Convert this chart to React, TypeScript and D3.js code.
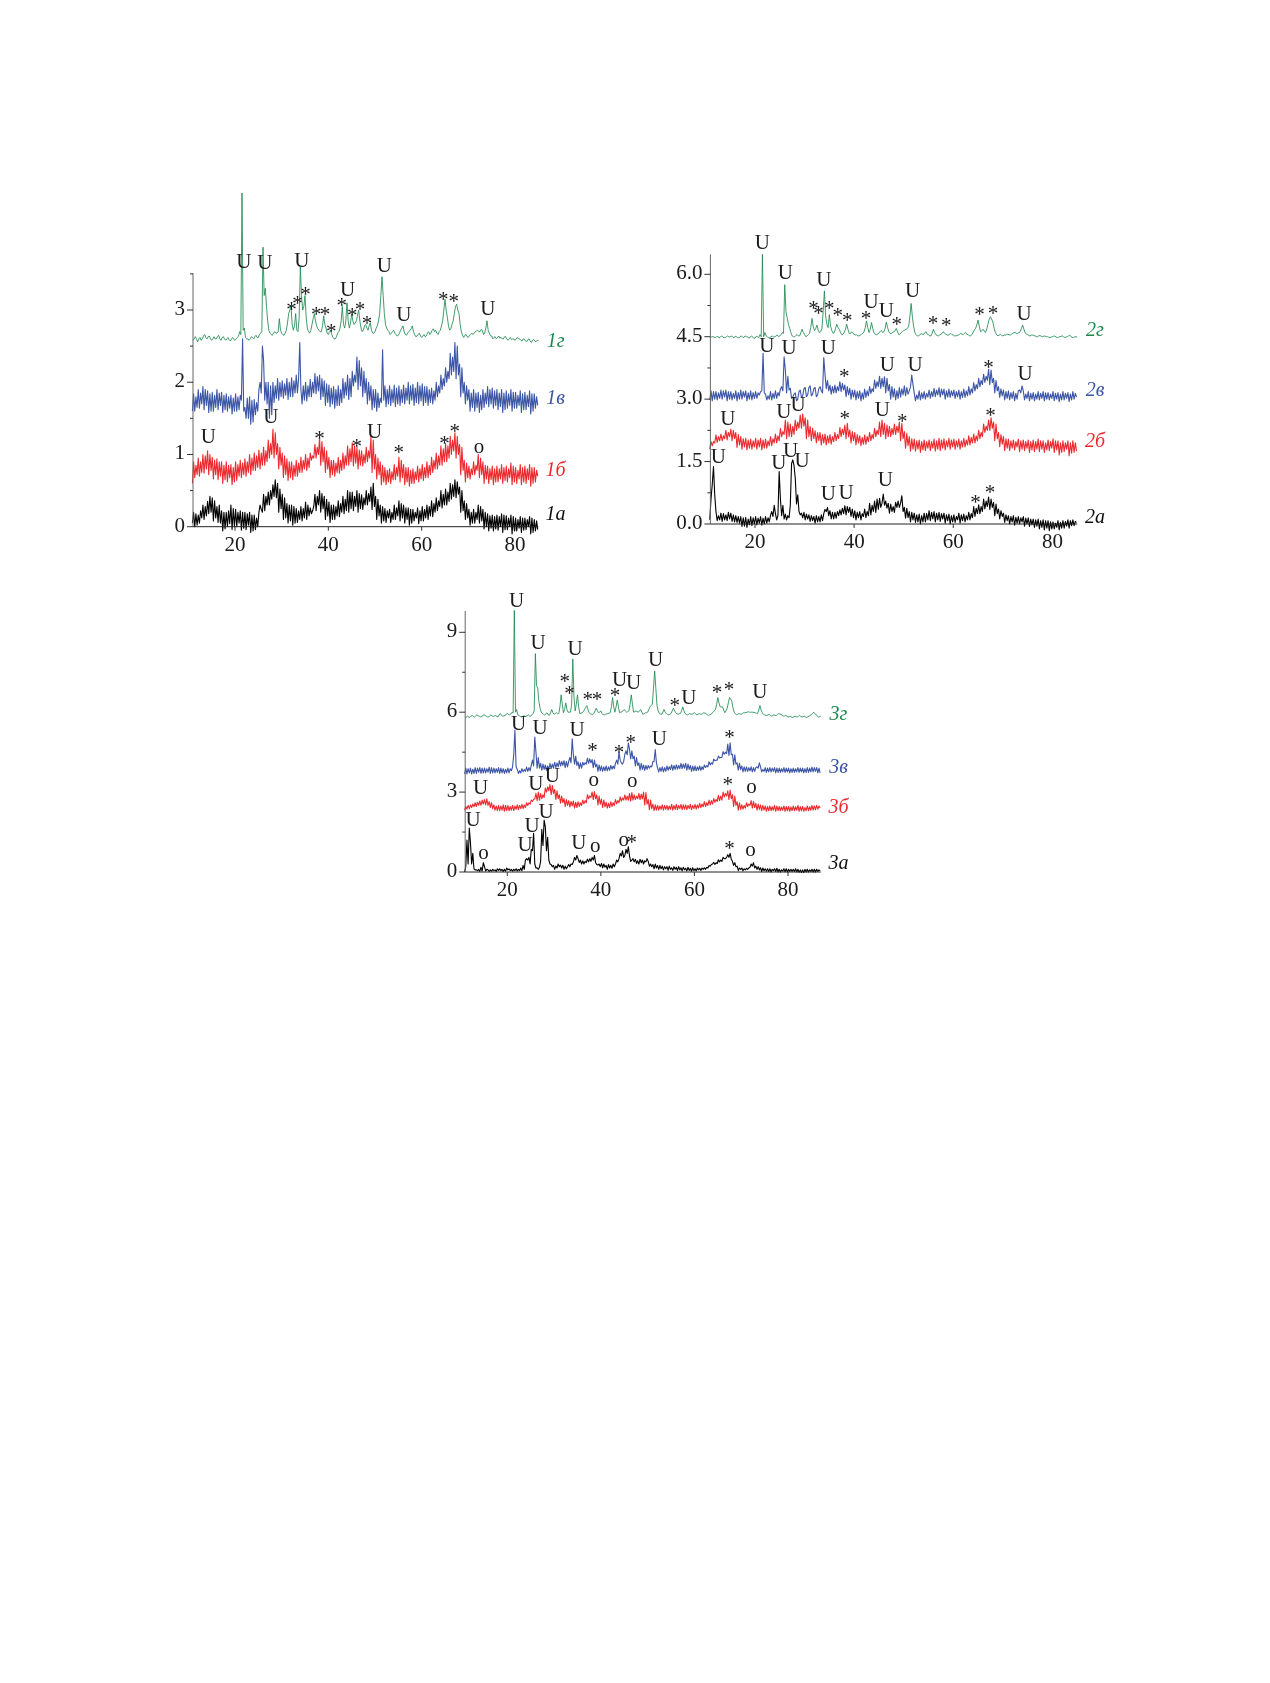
import React from "react";
import * as d3 from "d3";

const GREEN = "#1f8a50", BLUE = "#3c55a6", RED = "#ec2a2e", BLACK = "#000000";

// Readings on the half-degree grid (p*) and on the quarter points between them (m*)
const p1a = [
.05,.18,.02,.22,.12,.28,.15,.42,.2,.36,
.12,.3,.05,.2,-.03,.22,.04,.25,.0,.2,
.05,.2,-.02,.18,.02,.16,-.06,.12,.0,.24,
.2,.42,.3,.5,.38,.65,.4,.52,.25,.4,
.12,.3,.08,.28,.05,.22,.1,.25,.12,.3,
.15,.22,.28,.42,.3,.46,.25,.38,.15,.3,
.1,.28,.15,.32,.2,.38,.22,.48,.25,.42,
.28,.46,.25,.4,.3,.46,.35,.6,.28,.38,
.15,.28,.08,.22,.12,.2,.1,.26,.15,.32,
.12,.26,.1,.24,.05,.2,.12,.22,.08,.24,
.12,.28,.15,.32,.2,.36,.28,.45,.3,.48,
.35,.58,.42,.62,.45,.5,.22,.32,.12,.2,
.05,.2,.1,.28,.08,.2,.0,.15,-.02,.14,
-.03,.14,.0,.16,-.04,.12,.0,.14,-.06,.1,
-.02,.12,-.05,.1,.0,.12,-.08,.08,-.04];
const m1a = [
.2,.0,.16,.05,.3,.1,.35,.18,.4,.08,
.28,.06,.22,-.06,.2,.0,.3,-.04,.24,.0,
.22,-.05,.2,-.04,.2,-.08,.16,-.04,.2,.3,
.45,.22,.48,.3,.58,.42,.6,.2,.45,.1,
.32,.05,.3,.02,.25,.06,.28,.08,.34,.1,
.26,.18,.45,.22,.5,.2,.42,.1,.34,.06,
.3,.1,.36,.14,.42,.18,.5,.2,.48,.22,
.5,.2,.44,.24,.5,.3,.55,.24,.42,.1,
.3,.05,.25,.06,.24,.06,.3,.1,.36,.08,
.3,.05,.26,.02,.24,.08,.26,.04,.28,.08,
.3,.1,.36,.14,.4,.22,.5,.26,.52,.3,
.6,.38,.65,.4,.55,.2,.36,.1,.24,.02,
.24,.05,.3,.05,.24,-.03,.18,-.06,.16,-.06,
.16,-.05,.18,-.08,.15,-.04,.16,-.1,.12,-.06,
.14,-.08,.12,-.04,.14,-.1,.1,-.06];
const p1b = [
.6,.85,.72,.9,.75,.98,.8,1.0,.78,.92,
.72,.9,.7,.85,.65,.85,.68,.82,.62,.86,
.7,.88,.72,.9,.75,.95,.78,.98,.82,1.02,
.85,1.05,.9,1.15,1.0,1.3,1.0,1.1,.85,.98,
.72,.9,.68,.85,.7,.88,.75,.92,.8,.95,
.82,.98,.95,1.1,1.0,1.18,.9,1.05,.8,.92,
.72,.88,.75,.92,.78,.98,.85,1.08,.9,1.12,
.88,1.06,.85,1.0,.88,1.05,.95,1.2,.8,.95,
.72,.85,.62,.78,.62,.76,.65,.82,.7,.92,
.68,.82,.62,.78,.6,.76,.65,.8,.66,.82,
.68,.85,.72,.92,.8,.98,.85,1.08,.9,1.12,
.95,1.2,1.05,1.25,1.0,1.1,.78,.88,.68,.8,
.72,.85,.78,.95,.72,.85,.66,.8,.65,.8,
.62,.8,.66,.82,.64,.8,.68,.84,.62,.78,
.66,.82,.62,.8,.65,.82,.6,.78,.7];
const m1b = [
.9,.68,.95,.7,1.0,.74,1.05,.72,.96,.66,
.94,.65,.9,.6,.9,.62,.86,.58,.9,.64,
.92,.68,.94,.7,1.0,.72,1.02,.78,1.06,.8,
1.1,.85,1.2,.95,1.35,.95,1.15,.8,1.02,.68,
.94,.64,.9,.65,.92,.7,.96,.75,1.0,.78,
1.02,.92,1.14,.95,1.22,.85,1.1,.75,.96,.68,
.92,.7,.96,.74,1.02,.8,1.12,.85,1.16,.84,
1.1,.8,1.05,.84,1.1,.9,1.25,.75,1.0,.66,
.9,.58,.82,.58,.8,.6,.86,.65,.96,.62,
.86,.58,.82,.56,.8,.6,.84,.62,.86,.64,
.9,.68,.96,.75,1.02,.8,1.12,.85,1.15,.9,
1.25,1.0,1.3,.95,1.14,.72,.92,.62,.84,.66,
.9,.72,1.0,.68,.9,.6,.84,.6,.84,.58,
.84,.62,.86,.6,.84,.62,.88,.58,.82,.6,
.86,.58,.84,.6,.86,.56,.82,.62];
const p1c = [
1.6,1.8,1.65,1.85,1.7,1.9,1.68,1.84,1.6,1.82,
1.65,1.85,1.68,1.82,1.62,1.8,1.64,1.78,1.6,1.8,
1.62,2.6,1.6,1.78,1.5,1.75,1.45,1.72,1.6,1.85,
2.5,2.0,1.7,1.95,1.55,1.95,1.78,2.0,1.8,1.98,
1.82,2.0,1.8,2.02,1.85,2.05,2.55,1.95,1.75,1.95,
1.8,2.0,1.85,2.08,1.88,2.05,1.8,1.98,1.72,1.92,
1.7,1.9,1.68,1.9,1.72,2.0,1.82,2.05,1.8,2.1,
2.0,2.3,1.95,2.15,1.85,2.0,1.75,1.9,1.65,1.85,
1.65,2.45,1.75,1.9,1.7,1.9,1.72,1.92,1.7,1.9,
1.72,1.92,1.75,1.95,1.75,1.92,1.72,1.95,1.74,1.94,
1.72,1.9,1.72,1.88,1.75,1.95,1.85,2.05,1.95,2.15,
2.05,2.35,2.15,2.5,2.1,2.2,1.85,1.95,1.75,1.85,
1.65,1.85,1.65,1.82,1.62,1.85,1.7,1.9,1.7,1.88,
1.68,1.85,1.66,1.85,1.62,1.84,1.68,1.86,1.64,1.82,
1.68,1.84,1.62,1.82,1.66,1.84,1.6,1.8,1.68];
const m1c = [
1.84,1.6,1.9,1.64,1.94,1.62,1.88,1.58,1.86,1.6,
1.9,1.62,1.86,1.58,1.84,1.6,1.82,1.56,1.84,1.6,
1.82,1.75,1.65,1.5,1.8,1.42,1.76,1.55,1.9,2.0,
2.3,1.75,2.0,1.5,2.0,1.72,2.05,1.75,2.02,1.78,
2.05,1.76,2.06,1.8,2.1,1.85,1.9,1.7,2.0,1.74,
2.04,1.8,2.12,1.84,2.1,1.76,2.02,1.68,1.96,1.66,
1.94,1.64,1.95,1.68,2.05,1.78,2.1,1.76,2.15,1.95,
2.35,1.9,2.2,1.8,2.05,1.7,1.95,1.62,1.9,1.6,
1.78,1.72,1.95,1.66,1.95,1.68,1.96,1.66,1.95,1.68,
1.96,1.7,2.0,1.7,1.97,1.68,2.0,1.7,1.98,1.68,
1.94,1.68,1.92,1.7,2.0,1.8,2.1,1.9,2.2,2.0,
2.4,2.1,2.55,2.05,2.25,1.8,2.0,1.7,1.9,1.6,
1.9,1.6,1.86,1.58,1.9,1.65,1.94,1.66,1.92,1.64,
1.9,1.62,1.9,1.58,1.88,1.64,1.9,1.6,1.86,1.64,
1.88,1.58,1.86,1.62,1.88,1.56,1.84,1.64];
const p1d = [
2.58,2.63,2.56,2.62,2.6,2.66,2.6,2.64,2.58,2.63,
2.6,2.65,2.58,2.63,2.58,2.62,2.57,2.62,2.58,2.62,
2.7,4.62,2.75,2.6,2.58,2.63,2.6,2.65,2.62,2.68,
3.87,3.3,2.85,2.68,2.65,2.7,2.68,2.88,2.68,2.65,
2.72,2.95,3.05,2.72,2.95,2.7,3.6,3.0,3.2,2.75,
2.68,2.8,2.95,2.78,2.72,2.7,2.92,2.75,2.66,2.72,
2.62,2.6,2.68,2.75,3.05,2.75,3.1,2.75,2.95,2.8,
2.85,3.0,2.75,2.72,2.8,2.72,2.82,2.68,2.7,2.78,
2.95,3.46,2.95,2.75,2.7,2.68,2.72,2.66,2.65,2.72,
2.78,2.66,2.68,2.72,2.78,2.66,2.64,2.68,2.62,2.66,
2.64,2.7,2.68,2.74,2.72,2.66,2.72,2.85,3.15,2.9,
2.72,2.8,2.95,3.08,2.95,2.7,2.62,2.66,2.62,2.66,
2.66,2.7,2.72,2.7,2.72,2.68,2.85,2.68,2.64,2.62,
2.6,2.64,2.62,2.6,2.63,2.58,2.62,2.6,2.58,2.62,
2.6,2.57,2.6,2.56,2.6,2.55,2.59,2.56,2.58];
const m1d = [
2.6,2.6,2.6,2.58,2.64,2.62,2.63,2.6,2.6,2.6,
2.63,2.6,2.62,2.6,2.6,2.59,2.6,2.59,2.6,2.64,
2.66,2.72,2.62,2.6,2.6,2.62,2.63,2.62,2.66,2.7,
3.2,3.05,2.72,2.66,2.68,2.68,2.7,2.72,2.66,2.68,
2.82,3.0,2.8,2.78,2.72,2.9,3.2,3.05,2.9,2.7,
2.72,2.88,2.85,2.74,2.7,2.78,2.8,2.68,2.7,2.66,
2.6,2.63,2.7,2.85,2.8,2.85,2.85,2.82,2.85,2.82,
2.92,2.85,2.7,2.78,2.75,2.78,2.72,2.68,2.75,2.85,
3.2,3.2,2.8,2.72,2.66,2.7,2.68,2.64,2.68,2.75,
2.7,2.65,2.7,2.74,2.7,2.63,2.66,2.64,2.64,2.63,
2.68,2.66,2.72,2.7,2.68,2.7,2.78,3.0,3.0,2.78,
2.74,2.85,3.05,3.0,2.8,2.65,2.65,2.63,2.65,2.68,
2.68,2.71,2.7,2.73,2.66,2.75,2.72,2.64,2.6,2.63,
2.62,2.61,2.6,2.63,2.6,2.6,2.59,2.6,2.6,2.6,
2.58,2.6,2.57,2.59,2.57,2.58,2.57,2.58];

const p2a = [
.1,1.38,.7,.2,.1,.25,.1,.28,.12,.22,
.05,.18,.02,.15,-.05,.12,-.02,.15,.0,.14,
.02,.14,.0,.15,.05,.18,.45,.2,1.26,.45,
.12,.2,.15,1.54,1.4,.7,.3,.15,.28,.12,
.22,.08,.18,.05,.18,.08,.25,.4,.2,.28,
.12,.3,.2,.38,.25,.42,.28,.36,.15,.28,
.15,.25,.18,.3,.2,.45,.3,.6,.35,.5,
.72,.38,.5,.3,.42,.4,.55,.68,.3,.38,
.15,.28,.1,.22,.05,.2,.05,.25,.1,.28,
.12,.26,.1,.25,.12,.22,.08,.2,.05,.18,
.1,.22,.08,.2,.1,.25,.15,.38,.25,.42,
.3,.55,.42,.6,.4,.48,.25,.32,.18,.22,
.08,.18,.05,.16,.02,.15,.05,.14,.0,.12,
-.02,.1,-.05,.08,-.08,.08,-.1,.05,-.12,.02,
-.08,.04,-.1,.06,-.05,.08,-.04,.06,.04];
const m2a = [
.6,.95,.3,.08,.26,.06,.22,.08,.26,.06,
.2,.04,.18,-.06,.16,-.08,.18,-.04,.18,-.02,
.18,-.03,.18,.02,.2,.3,.25,.1,.6,.2,
.24,.1,.45,1.45,1.1,.48,.22,.26,.1,.24,
.06,.2,.02,.2,.05,.22,.35,.3,.32,.12,
.28,.14,.34,.22,.44,.22,.4,.18,.32,.1,
.3,.1,.36,.15,.5,.22,.55,.28,.62,.4,
.45,.55,.26,.48,.28,.52,.4,.5,.4,.14,
.3,.05,.26,.04,.24,.0,.26,.05,.32,.08,
.3,.05,.28,.06,.26,.02,.24,.0,.22,.04,
.26,.02,.24,.05,.28,.1,.42,.18,.46,.25,
.6,.36,.65,.35,.52,.2,.36,.12,.26,.04,
.2,.0,.2,-.03,.18,.0,.18,-.05,.15,-.06,
.12,-.08,.12,-.12,.1,-.14,.08,-.16,.05,-.12,
.08,-.14,.08,-.1,.1,-.1,.1,-.04];
const p2b = [
1.8,1.98,1.95,2.1,2.0,2.12,2.05,2.2,2.1,2.25,
2.05,2.15,1.9,2.05,1.85,2.02,1.82,2.0,1.85,2.02,
1.85,2.02,1.82,2.0,1.88,2.05,1.95,2.12,2.0,2.22,
2.15,2.45,2.1,2.35,2.15,2.45,2.3,2.65,2.35,2.5,
2.1,2.3,2.05,2.2,2.0,2.15,1.95,2.12,1.95,2.1,
1.98,2.15,2.05,2.28,2.15,2.42,2.1,2.22,2.0,2.15,
1.95,2.08,1.92,2.1,1.98,2.15,2.05,2.25,2.15,2.5,
2.15,2.38,2.1,2.3,2.15,2.35,2.2,2.42,2.05,2.18,
1.88,2.05,1.8,2.0,1.8,1.98,1.78,1.98,1.82,1.98,
1.82,2.0,1.8,2.02,1.82,2.0,1.85,2.02,1.85,2.0,
1.85,2.0,1.85,2.02,1.9,2.08,1.95,2.12,2.0,2.2,
2.1,2.35,2.25,2.55,2.3,2.4,2.05,2.15,1.92,2.05,
1.82,2.0,1.82,1.98,1.85,2.0,1.8,1.98,1.82,1.98,
1.78,1.98,1.8,2.0,1.8,1.95,1.78,1.98,1.82,2.0,
1.78,1.95,1.72,1.95,1.8,1.95,1.7,1.95,1.75];
const m2b = [
1.98,1.88,2.14,1.96,2.16,2.0,2.25,2.02,2.28,2.0,
2.2,1.84,2.1,1.8,2.06,1.78,2.04,1.8,2.06,1.8,
2.06,1.78,2.04,1.82,2.1,1.88,2.16,1.95,2.3,2.1,
2.5,2.05,2.4,2.1,2.5,2.25,2.62,2.3,2.55,2.05,
2.34,2.0,2.24,1.95,2.2,1.9,2.16,1.9,2.15,1.92,
2.2,2.0,2.32,2.1,2.38,2.05,2.26,1.95,2.2,1.9,
2.12,1.88,2.14,1.92,2.2,2.0,2.3,2.1,2.45,2.1,
2.42,2.05,2.35,2.1,2.4,2.15,2.45,2.0,2.22,1.82,
2.1,1.75,2.04,1.75,2.02,1.72,2.02,1.76,2.02,1.76,
2.04,1.75,2.06,1.76,2.05,1.78,2.06,1.8,2.04,1.8,
2.04,1.8,2.06,1.85,2.12,1.9,2.16,1.95,2.25,2.05,
2.4,2.2,2.5,2.25,2.45,2.0,2.2,1.86,2.1,1.76,
2.04,1.76,2.02,1.78,2.04,1.74,2.02,1.76,2.02,1.72,
2.02,1.74,2.04,1.74,2.0,1.72,2.02,1.76,2.05,1.72,
2.0,1.66,2.0,1.74,2.0,1.64,2.0,1.72];
const p2c = [
2.98,3.18,3.0,3.15,3.02,3.2,3.05,3.18,3.0,3.14,
3.02,3.16,3.0,3.18,3.05,3.15,3.0,3.16,3.02,3.15,
3.1,4.1,3.15,3.08,3.0,3.14,3.02,3.16,3.08,3.2,
4.02,3.55,3.22,3.05,3.12,3.0,3.18,3.08,3.25,3.1,
3.28,3.12,3.25,3.1,3.25,3.15,4.0,3.45,3.2,3.3,
3.15,3.3,3.2,3.38,3.22,3.3,3.1,3.22,3.05,3.18,
3.02,3.15,3.0,3.2,3.08,3.25,3.18,3.42,3.3,3.5,
3.3,3.5,3.2,3.3,3.05,3.2,3.02,3.25,3.1,3.28,
3.12,3.58,3.35,3.1,3.0,3.15,3.02,3.14,3.05,3.18,
3.06,3.22,3.1,3.24,3.1,3.2,3.05,3.2,3.08,3.18,
3.06,3.18,3.04,3.2,3.08,3.25,3.15,3.35,3.25,3.45,
3.35,3.55,3.45,3.7,3.4,3.45,3.2,3.25,3.08,3.18,
3.02,3.16,3.02,3.14,3.0,3.15,3.32,3.12,3.02,3.14,
3.0,3.12,3.0,3.14,3.02,3.15,3.0,3.12,3.02,3.14,
3.0,3.12,2.98,3.14,3.02,3.12,2.98,3.14,3.05];
const m2c = [
3.2,2.96,3.18,2.98,3.22,3.0,3.22,2.96,3.18,2.98,
3.2,2.96,3.22,3.0,3.2,2.96,3.2,2.98,3.18,3.02,
3.18,3.2,3.12,2.98,3.18,2.98,3.2,3.02,3.24,3.3,
3.7,3.15,3.26,3.02,3.15,2.96,3.22,3.04,3.28,3.06,
3.32,3.08,3.28,3.06,3.3,3.2,3.6,3.25,3.34,3.12,
3.34,3.15,3.42,3.18,3.34,3.06,3.26,3.0,3.22,2.98,
3.2,2.96,3.24,3.04,3.3,3.14,3.46,3.26,3.55,3.26,
3.54,3.15,3.35,3.0,3.25,2.98,3.28,3.05,3.32,3.08,
3.2,3.3,3.15,2.96,3.2,2.98,3.18,3.0,3.22,3.02,
3.26,3.06,3.28,3.05,3.24,3.0,3.24,3.04,3.22,3.02,
3.22,3.0,3.24,3.04,3.3,3.1,3.4,3.2,3.5,3.3,
3.6,3.4,3.72,3.35,3.5,3.15,3.3,3.04,3.22,2.98,
3.2,2.98,3.18,2.96,3.2,3.22,3.2,2.98,3.18,2.96,
3.16,2.96,3.18,2.98,3.18,2.96,3.16,2.98,3.18,2.96,
3.16,2.94,3.18,2.98,3.16,2.94,3.18,3.0];
const p2d = [
4.47,4.5,4.48,4.51,4.49,4.5,4.48,4.52,4.5,4.49,
4.51,4.48,4.5,4.49,4.52,4.5,4.48,4.5,4.47,4.5,
4.55,6.48,4.6,4.5,4.48,4.52,4.5,4.54,4.52,4.6,
5.75,4.95,4.7,4.52,4.5,4.55,4.52,4.68,4.55,4.52,
4.58,4.94,4.65,4.78,4.6,4.7,5.6,4.8,5.03,4.65,
4.6,4.8,4.68,4.55,4.6,4.8,4.58,4.62,4.56,4.55,
4.52,4.56,4.62,4.88,4.6,4.84,4.6,4.55,4.6,4.65,
4.62,4.85,4.62,4.58,4.62,4.7,4.55,4.6,4.65,4.68,
4.75,5.3,4.75,4.55,4.52,4.58,4.55,4.62,4.55,4.52,
4.68,4.55,4.52,4.56,4.62,4.56,4.54,4.58,4.54,4.52,
4.54,4.58,4.55,4.6,4.55,4.52,4.6,4.7,4.9,4.62,
4.68,4.6,4.8,4.98,4.85,4.6,4.52,4.56,4.52,4.54,
4.56,4.54,4.58,4.6,4.58,4.62,4.78,4.6,4.55,4.52,
4.54,4.52,4.5,4.53,4.5,4.52,4.5,4.48,4.5,4.52,
4.48,4.5,4.52,4.48,4.5,4.54,4.48,4.5,4.49];
const m2d = [
4.5,4.49,4.5,4.47,4.52,4.47,4.5,4.49,4.52,4.47,
4.5,4.47,4.52,4.48,4.5,4.47,4.52,4.46,4.51,4.48,
4.5,4.5,4.52,4.47,4.5,4.49,4.52,4.5,4.55,4.58,
5.1,4.8,4.6,4.5,4.53,4.52,4.6,4.6,4.5,4.55,
4.72,4.74,4.7,4.66,4.62,5.1,5.0,4.72,4.75,4.58,
4.7,4.72,4.6,4.56,4.68,4.68,4.58,4.58,4.54,4.52,
4.54,4.58,4.72,4.72,4.68,4.7,4.56,4.56,4.62,4.6,
4.7,4.72,4.58,4.6,4.64,4.62,4.56,4.62,4.66,4.7,
4.98,4.98,4.6,4.52,4.54,4.56,4.6,4.56,4.52,4.58,
4.6,4.53,4.54,4.58,4.58,4.54,4.56,4.55,4.52,4.53,
4.56,4.56,4.58,4.56,4.52,4.55,4.66,4.78,4.75,4.64,
4.64,4.68,4.92,4.92,4.7,4.55,4.54,4.53,4.54,4.55,
4.55,4.56,4.6,4.58,4.6,4.7,4.68,4.56,4.53,4.54,
4.53,4.5,4.52,4.51,4.51,4.5,4.49,4.49,4.51,4.49,
4.49,4.51,4.5,4.49,4.52,4.5,4.48,4.5];

const p3a = [
.0,.3,1.65,.7,.12,.05,.1,.03,.35,.1,
.08,.03,.1,.02,.12,.05,.1,.03,.15,.05,
.1,.05,.12,.05,.15,.1,.45,.55,.3,1.45,
.3,.1,.18,1.0,1.95,1.3,.45,.2,.25,.15,
.3,.15,.25,.12,.2,.3,.28,.45,.62,.45,
.3,.4,.35,.5,.4,.62,.35,.3,.2,.3,
.18,.28,.15,.3,.2,.38,.5,.8,.55,.7,
.95,.45,.5,.32,.42,.35,.45,.38,.5,.3,
.2,.3,.15,.25,.12,.2,.12,.22,.1,.2,
.1,.2,.08,.18,.08,.18,.06,.16,.05,.15,
.08,.15,.1,.18,.15,.28,.3,.35,.32,.45,
.4,.5,.55,.7,.48,.35,.2,.15,.1,.12,
.08,.15,.18,.35,.15,.2,.08,.15,.05,.12,
.02,.1,.05,.14,.0,.08,.03,.12,.0,.1,
.02,.12,.0,.08,-.02,.1,.0,.08,.02,.1,
.0,.08,.04];
const m3a = [
.2,1.2,1.1,.3,.08,.08,.02,.18,.2,.04,
.02,.08,.05,.08,.06,.12,.02,.1,.08,.12,
.03,.1,.04,.1,.05,.25,.5,.45,.85,.8,
.15,.16,.4,1.6,1.7,.8,.3,.28,.1,.22,
.2,.26,.1,.22,.28,.2,.38,.55,.5,.36,
.42,.3,.48,.38,.55,.45,.28,.26,.32,.16,
.25,.1,.25,.14,.3,.45,.7,.6,.62,.85,
.6,.4,.38,.48,.3,.48,.3,.42,.4,.22,
.28,.12,.24,.1,.22,.08,.2,.06,.16,.06,
.18,.05,.16,.04,.14,.04,.14,.03,.12,.04,
.14,.06,.16,.1,.24,.22,.36,.28,.46,.38,
.55,.5,.65,.55,.4,.25,.22,.06,.15,.05,
.14,.1,.3,.22,.22,.1,.16,.02,.12,.03,
.12,.0,.12,.02,.1,.0,.12,.01,.1,.02,
.1,.02,.1,-.01,.08,-.02,.1,.0,.1,.0,
.1,.02];
const p3b = [
2.32,2.5,2.38,2.55,2.45,2.62,2.5,2.7,2.55,2.75,
2.5,2.6,2.38,2.48,2.3,2.48,2.32,2.5,2.3,2.46,
2.32,2.48,2.35,2.5,2.38,2.52,2.42,2.6,2.55,2.72,
2.75,3.0,2.7,2.9,2.8,3.2,3.05,3.25,2.95,3.05,
2.75,2.85,2.6,2.72,2.5,2.65,2.48,2.62,2.42,2.6,
2.5,2.68,2.6,2.85,2.8,3.02,2.75,2.85,2.55,2.7,
2.45,2.58,2.42,2.6,2.5,2.68,2.6,2.78,2.7,2.85,
2.7,2.98,2.7,2.85,2.75,2.92,2.75,2.98,2.55,2.7,
2.38,2.52,2.32,2.48,2.35,2.5,2.35,2.48,2.35,2.5,
2.35,2.5,2.38,2.52,2.36,2.5,2.38,2.5,2.38,2.52,
2.4,2.55,2.45,2.6,2.5,2.68,2.55,2.72,2.65,2.85,
2.7,2.95,2.85,3.08,2.75,2.85,2.5,2.6,2.35,2.5,
2.4,2.55,2.5,2.65,2.42,2.55,2.35,2.5,2.32,2.46,
2.3,2.45,2.32,2.48,2.3,2.44,2.32,2.46,2.3,2.44,
2.3,2.45,2.32,2.46,2.3,2.42,2.3,2.45,2.32,2.48,
2.34,2.48,2.4];
const m3b = [
2.46,2.36,2.52,2.42,2.6,2.46,2.66,2.5,2.72,2.52,
2.64,2.42,2.52,2.32,2.5,2.3,2.52,2.28,2.5,2.3,
2.5,2.3,2.52,2.34,2.54,2.38,2.6,2.5,2.7,2.65,
2.95,2.68,2.95,2.75,3.15,3.0,3.28,2.9,3.1,2.72,
2.9,2.58,2.76,2.46,2.68,2.44,2.66,2.4,2.64,2.46,
2.7,2.56,2.9,2.75,3.0,2.72,2.9,2.52,2.74,2.42,
2.62,2.4,2.64,2.46,2.72,2.56,2.82,2.66,2.9,2.7,
2.95,2.66,2.9,2.72,2.95,2.72,3.0,2.52,2.72,2.34,
2.55,2.3,2.5,2.32,2.52,2.32,2.5,2.32,2.54,2.32,
2.54,2.34,2.54,2.34,2.52,2.34,2.54,2.34,2.54,2.36,
2.58,2.42,2.64,2.46,2.7,2.52,2.76,2.62,2.88,2.68,
3.0,2.82,3.05,2.72,2.9,2.46,2.64,2.32,2.52,2.36,
2.6,2.46,2.68,2.4,2.58,2.32,2.52,2.3,2.48,2.28,
2.48,2.3,2.5,2.28,2.46,2.3,2.48,2.28,2.46,2.28,
2.48,2.3,2.5,2.28,2.46,2.28,2.48,2.3,2.5,2.32,
2.5,2.36];
const p3c = [
3.68,3.88,3.72,3.86,3.7,3.9,3.75,3.9,3.72,3.88,
3.75,3.92,3.72,3.88,3.74,3.9,3.72,3.86,3.72,3.88,
3.8,5.32,3.95,3.8,3.72,3.85,3.78,3.92,3.8,3.98,
5.07,4.3,3.9,4.05,3.85,3.98,3.85,4.05,3.9,4.1,
3.95,4.15,4.0,4.15,3.95,4.1,5.0,4.35,4.0,4.1,
3.9,4.1,4.05,4.25,4.1,4.2,3.95,4.02,3.8,3.95,
3.8,3.95,3.82,3.98,3.88,4.05,4.5,4.05,4.15,4.4,
4.85,4.55,4.25,4.3,4.0,4.08,3.85,4.0,3.85,3.98,
3.95,4.6,4.1,3.92,3.78,3.92,3.78,3.95,3.85,4.0,
3.85,4.0,3.88,4.05,3.9,4.05,3.85,3.98,3.8,3.95,
3.82,3.95,3.85,4.0,3.95,4.1,4.05,4.2,4.2,4.3,
4.3,4.5,4.45,4.85,4.4,4.4,4.05,4.08,3.85,3.95,
3.78,3.92,3.8,3.92,3.78,3.9,4.1,3.85,3.78,3.9,
3.76,3.9,3.78,3.9,3.74,3.88,3.76,3.9,3.76,3.88,
3.74,3.88,3.76,3.9,3.76,3.88,3.74,3.9,3.76,3.92,
3.78,3.9,3.72];
const m3c = [
3.9,3.68,3.9,3.68,3.92,3.7,3.92,3.7,3.9,3.72,
3.94,3.7,3.9,3.72,3.92,3.7,3.88,3.7,3.9,3.72,
3.95,4.4,3.85,3.7,3.88,3.76,3.94,3.78,4.0,4.2,
4.5,3.9,4.08,3.82,4.02,3.82,4.08,3.88,4.12,3.92,
4.18,3.98,4.18,3.92,4.15,4.3,4.4,4.05,4.14,3.88,
4.12,4.02,4.28,4.08,4.22,3.92,4.05,3.78,3.98,3.78,
3.98,3.8,4.0,3.86,4.08,4.2,4.2,4.1,4.42,4.55,
4.6,4.25,4.35,3.98,4.1,3.82,4.02,3.82,4.0,3.9,
4.15,4.15,3.9,3.76,3.95,3.76,3.98,3.82,4.02,3.82,
4.02,3.86,4.08,3.88,4.08,3.82,4.0,3.78,3.98,3.8,
3.98,3.82,4.02,3.92,4.14,4.02,4.24,4.18,4.35,4.28,
4.52,4.42,4.8,4.38,4.42,4.02,4.1,3.82,3.98,3.76,
3.95,3.78,3.95,3.76,3.92,3.95,3.95,3.76,3.92,3.74,
3.92,3.76,3.92,3.72,3.9,3.74,3.92,3.74,3.9,3.72,
3.9,3.74,3.92,3.74,3.9,3.72,3.92,3.74,3.94,3.76,
3.92,3.72];
const p3d = [
5.78,5.85,5.8,5.88,5.82,5.9,5.85,5.82,5.9,5.85,
5.82,5.9,5.84,5.88,5.82,5.95,5.85,5.88,5.95,5.9,
6.0,9.82,6.1,5.88,5.82,5.86,5.84,5.9,5.85,5.95,
8.2,6.9,6.15,5.95,5.9,5.98,5.88,6.1,5.92,5.98,
5.95,6.65,5.98,6.35,6.0,6.0,8.0,6.05,6.65,5.95,
5.98,6.1,6.25,5.98,5.92,5.95,6.15,5.98,6.05,5.9,
5.92,5.95,5.98,6.55,6.0,6.45,5.98,6.02,6.1,6.0,
6.05,6.65,6.0,6.05,6.0,6.1,5.92,5.98,6.0,6.2,
6.3,7.55,6.25,5.95,5.92,6.1,5.95,5.9,5.95,6.15,
5.98,5.92,5.95,6.2,5.95,5.9,5.95,5.92,5.98,5.9,
5.95,5.92,5.98,5.95,5.88,5.92,6.0,6.1,6.55,6.2,
6.2,5.98,6.15,6.55,6.4,6.0,5.9,5.95,5.92,5.98,
5.98,6.02,6.0,6.0,5.98,5.95,6.25,5.98,5.9,5.88,
5.92,5.85,5.9,5.88,5.95,5.92,5.85,5.88,5.82,5.85,
5.8,5.85,5.82,5.88,5.82,5.85,5.8,5.85,5.9,6.0,
5.9,5.82,5.85];
const m3d = [
5.82,5.82,5.85,5.84,5.86,5.87,5.83,5.88,5.88,5.82,
5.87,5.86,5.86,5.84,5.9,5.88,5.86,5.92,5.92,5.93,
5.98,6.0,5.9,5.84,5.84,5.85,5.88,5.86,5.9,6.05,
7.0,6.4,6.0,5.92,5.94,5.9,5.98,5.98,5.95,5.94,
6.2,6.3,6.1,6.1,6.0,6.3,6.6,6.3,6.2,5.96,
6.02,6.18,6.1,5.94,5.92,6.05,6.05,6.0,5.95,5.9,
5.94,5.96,6.2,6.2,6.2,6.2,6.0,6.05,6.04,6.02,
6.3,6.3,6.02,6.02,6.05,6.0,5.94,5.98,6.1,6.25,
6.9,6.9,6.05,5.93,6.0,6.0,5.92,5.92,6.05,6.05,
5.94,5.94,6.05,6.05,5.92,5.92,5.93,5.95,5.94,5.92,
5.93,5.95,5.96,5.9,5.9,5.96,6.05,6.3,6.35,6.2,
6.08,6.05,6.35,6.5,6.15,5.94,5.92,5.93,5.95,5.98,
6.0,6.0,6.0,5.99,5.96,6.08,6.08,5.92,5.88,5.9,
5.88,5.88,5.88,5.92,5.93,5.88,5.86,5.85,5.83,5.82,
5.83,5.83,5.85,5.84,5.83,5.82,5.83,5.88,5.95,5.95,
5.86,5.83];

const p1U = [[21.9,3.68],[26.4,3.67],[34.3,3.69],[44.1,3.29],[52,3.62],[56.2,2.95],[74.2,3.03],[27.7,1.53],[14.3,1.26],[49.9,1.33]];
const p1Star = [[32.1,3.05],[33.4,3.13],[35.1,3.26],[37.4,2.98],[39.3,2.98],[40.6,2.74],[42.9,3.11],[45.1,2.97],[46.8,3.05],[48.3,2.86],[64.6,3.18],[66.9,3.16],[38.1,1.26],[46.1,1.15],[55.1,1.07],[64.9,1.19],[67.1,1.36]];
const p1O = [[72.3,1.08]];
const p2U = [[21.5,6.77],[26.1,6.05],[33.9,5.88],[43.4,5.37],[46.5,5.14],[51.8,5.63],[74.3,5.06],[22.4,4.3],[26.9,4.26],[34.8,4.25],[46.7,3.84],[52.3,3.85],[74.5,3.62],[14.5,2.54],[25.8,2.72],[28.7,2.88],[45.7,2.76],[12.6,1.63],[24.8,1.5],[27.2,1.78],[29.5,1.54],[34.8,.74],[38.4,.76],[46.3,1.07]];
const p2Star = [[31.8,5.26],[32.8,5.12],[35,5.26],[36.7,5.09],[38.6,4.96],[42.4,5.02],[48.6,4.86],[55.9,4.9],[58.6,4.85],[65.3,5.1],[68,5.14],[38,3.61],[67.1,3.83],[38.1,2.6],[49.7,2.54],[67.5,2.69],[64.5,.59],[67.4,.84]];
const p2O: number[][] = [];
const p3U = [[22,10.22],[26.6,8.64],[34.5,8.41],[44,7.24],[47,7.13],[51.7,8],[58.8,6.58],[74,6.79],[22.4,5.6],[27,5.43],[34.9,5.38],[52.5,5.04],[14.3,3.2],[26.1,3.36],[29.6,3.63],[12.7,2],[25.3,1.76],[23.8,1.05],[28.3,2.29],[35.3,1.11]];
const p3Star = [[32.3,7.25],[33.3,6.83],[37.2,6.58],[39.2,6.58],[43,6.75],[55.8,6.36],[64.8,6.84],[67.4,6.98],[38.2,4.68],[43.9,4.6],[46.4,4.98],[67.5,5.15],[67.1,3.39],[46.6,1.23],[67.5,1.01]];
const p3O = [[38.5,3.41],[46.7,3.35],[72.2,3.13],[14.9,.66],[38.8,.93],[44.9,1.13],[72,.76]];

const xTicks = [20, 40, 60, 80];
const p1YTicks = [0, 1, 2, 3];
const p2YTicks = [0, 1.5, 3, 4.5, 6];
const p3YTicks = [0, 3, 6, 9];

const FONT = "'Liberation Serif', 'Times New Roman', serif";

// Plain x order, for the quiet green traces
const weave = (grid: number[], between: number[]) =>
  grid.flatMap((v, i) => (i < between.length ? [v, between[i]] : [v]));
// Pairs swapped on every second step, so that the highs and lows of a noisy trace alternate point by point
const comb = (grid: number[], between: number[]) =>
  grid.flatMap((v, i) => (i >= between.length ? [v] : i % 2 ? [between[i], v] : [v, between[i]]));

type Ser = { values: number[]; color: string; label: string; ly: number; sw: number; off: number };
type PanelCfg = {
  xDomain: [number, number]; xRange: [number, number];
  yDomain: [number, number]; yRange: [number, number]; yMax: number;
  yTicks: number[]; yMinor: number; yFmt: (v: number) => string; labelX: number;
  series: Ser[]; U: number[][]; star: number[][]; o: number[][];
};

const panels: PanelCfg[] = [
  { xDomain: [20, 80], xRange: [235, 515], yDomain: [0, 3], yRange: [526.7, 310], yMax: 3.51,
    yTicks: p1YTicks, yMinor: 0.5, yFmt: v => String(v), labelX: 88.7,
    series: [
      { values: weave(p1d, m1d), color: GREEN, label: "1г", ly: 2.57, sw: 0.85, off: 0 },
      { values: comb(p1c, m1c), color: BLUE, label: "1в", ly: 1.78, sw: 1.1, off: -0.125 },
      { values: comb(p1b, m1b), color: RED, label: "1б", ly: 0.79, sw: 1.1, off: -0.125 },
      { values: comb(p1a, m1a), color: BLACK, label: "1а", ly: 0.18, sw: 1.1, off: -0.125 },
    ], U: p1U, star: p1Star, o: p1O },
  { xDomain: [20, 80], xRange: [755, 1052.4], yDomain: [0, 6], yRange: [524, 274.3], yMax: 6.48,
    yTicks: p2YTicks, yMinor: 0.75, yFmt: v => v.toFixed(1), labelX: 88.6,
    series: [
      { values: weave(p2d, m2d), color: GREEN, label: "2г", ly: 4.66, sw: 0.85, off: 0 },
      { values: comb(p2c, m2c), color: BLUE, label: "2в", ly: 3.22, sw: 1.1, off: -0.125 },
      { values: comb(p2b, m2b), color: RED, label: "2б", ly: 2.0, sw: 1.1, off: -0.125 },
      { values: comb(p2a, m2a), color: BLACK, label: "2а", ly: 0.16, sw: 1.1, off: -0.125 },
    ], U: p2U, star: p2Star, o: p2O },
  { xDomain: [20, 80], xRange: [507.3, 788], yDomain: [0, 9], yRange: [872, 632.3], yMax: 9.8,
    yTicks: p3YTicks, yMinor: 1.5, yFmt: v => String(v), labelX: 90.8,
    series: [
      { values: weave(p3d, m3d), color: GREEN, label: "3г", ly: 5.95, sw: 0.85, off: 0 },
      { values: comb(p3c, m3c), color: BLUE, label: "3в", ly: 3.95, sw: 1.1, off: -0.125 },
      { values: comb(p3b, m3b), color: RED, label: "3б", ly: 2.43, sw: 1.1, off: -0.125 },
      { values: comb(p3a, m3a), color: BLACK, label: "3а", ly: 0.33, sw: 1.1, off: -0.125 },
    ], U: p3U, star: p3Star, o: p3O },
];

const X_START = 11;
const X_STEP = 0.25;

function Panel({ cfg }: { cfg: PanelCfg }) {
  const x = d3.scaleLinear().domain(cfg.xDomain).range(cfg.xRange);
  const y = d3.scaleLinear().domain(cfg.yDomain).range(cfg.yRange);
  const xEnd = X_START + X_STEP * (cfg.series[0].values.length - 1);
  const minor = d3.range(0, cfg.yMax, cfg.yMinor);
  return (
    <g>
      {cfg.series.map(s => {
        const line = d3.line<number>()
          .x((_, i) => x(X_START + s.off + i * X_STEP))
          .y(v => y(v));
        return <path key={s.label} d={line(s.values) ?? ""} fill="none" stroke={s.color} strokeWidth={s.sw} strokeLinejoin="round" />;
      })}
      <line x1={x(X_START)} x2={x(X_START)} y1={y(0)} y2={y(cfg.yMax)} stroke="#666" strokeWidth={1} />
      <line x1={x(X_START)} x2={x(xEnd)} y1={y(0)} y2={y(0)} stroke="#222" strokeWidth={1} />
      {minor.map(v => {
        const major = cfg.yTicks.includes(v);
        return <line key={v} x1={x(X_START) - (major ? 6 : 3)} x2={x(X_START)} y1={y(v)} y2={y(v)} stroke="#333" strokeWidth={1} />;
      })}
      {xTicks.map(v => <line key={v} x1={x(v)} x2={x(v)} y1={y(0)} y2={y(0) + 4} stroke="#333" strokeWidth={1} />)}
      <g fontFamily={FONT} fontSize={21} fill="#1a1a1a">
        {cfg.yTicks.map(v => (
          <text key={v} x={x(X_START) - 8} y={y(v) + 5} textAnchor="end">{cfg.yFmt(v)}</text>
        ))}
        {xTicks.map(v => (
          <text key={v} x={x(v)} y={y(0) + 24} textAnchor="middle">{v}</text>
        ))}
        {cfg.U.map(([a, b], i) => <text key={i} x={x(a)} y={y(b) + 7} textAnchor="middle">U</text>)}
        {cfg.star.map(([a, b], i) => <text key={i} x={x(a)} y={y(b) + 9.5} textAnchor="middle">*</text>)}
        {cfg.o.map(([a, b], i) => <text key={i} x={x(a)} y={y(b) + 4.5} textAnchor="middle">o</text>)}
      </g>
      <g fontFamily={FONT} fontSize={20} fontStyle="italic">
        {cfg.series.map(s => (
          <text key={s.label} x={x(cfg.labelX)} y={y(s.ly) + 6} textAnchor="middle" fill={s.color === BLACK ? "#111" : s.color}>{s.label}</text>
        ))}
      </g>
    </g>
  );
}

export default function App() {
  return (
    <svg width={1270} height={1683} viewBox="0 0 1270 1683"
      style={{ position: "absolute", left: 0, top: 0, background: "#fff" }}>
      <defs>
        <filter id="soft" x="0" y="0" width="100%" height="100%">
          <feGaussianBlur stdDeviation="0.3" />
        </filter>
      </defs>
      <g filter="url(#soft)">
        {panels.map((p, i) => <Panel key={i} cfg={p} />)}
      </g>
    </svg>
  );
}
